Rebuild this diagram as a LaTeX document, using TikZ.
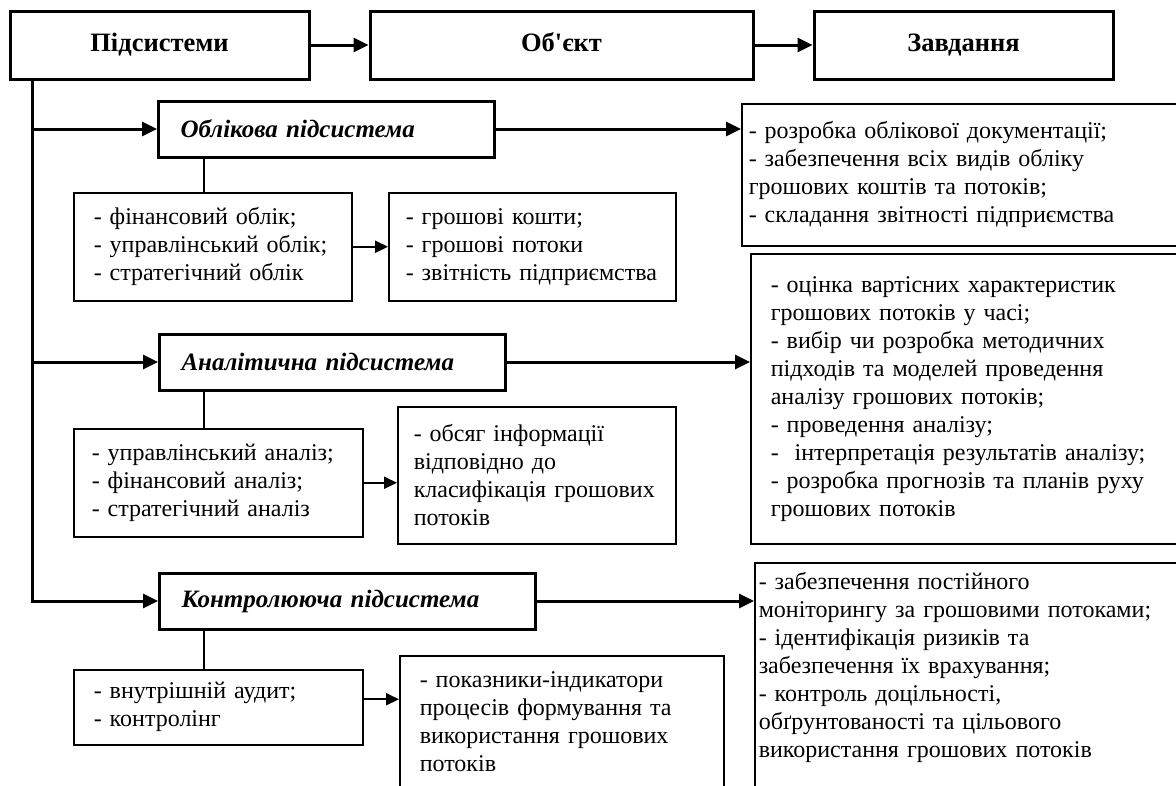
\documentclass[tikz,border=0pt]{standalone}
\usepackage{fontspec}
\setmainfont{Liberation Serif}[Ligatures=TeXOff]
\usetikzlibrary{arrows.meta}
\tikzset{
x=1pt, y=-1pt, % one unit is one pixel, y runs downwards
>={Triangle[length=15pt, width=14pt]}, % filled arrow heads
head/.style={draw, line width=3pt, minimum height=68pt, text height=19pt, text depth=6pt, font=\fontsize{26.5}{30}\selectfont\bfseries}, % top row
part/.style={draw, line width=3pt, minimum height=56pt, inner xsep=22pt, anchor=west, align=left, font=\fontsize{25}{28}\selectfont\bfseries\itshape}, % the three subsystems
list/.style={draw, line width=1.5pt, anchor=north west, align=left, inner xsep=20pt, font=\fontsize{24}{28}\selectfont}, % boxes with the lists
flow/.style={->, line width=3pt}, % main arrows
feed/.style={->, line width=2pt, >={Triangle[length=13pt, width=12pt]}}, % small arrows between lists
stem/.style={line width=1.5pt}, % subsystem to its list
}

\begin{document}
\begin{tikzpicture}
    \useasboundingbox (0,0) rectangle (1176,785);
    \clip (0,0) rectangle (1176,785);

    % top row
    \node[head, minimum width=299pt] (sys) at (159.5,45) {Підсистеми};
    \node[head, minimum width=383pt] (obj) at (561.5,45) {Об'єкт};
    \node[head, minimum width=299pt] (tasks) at (963.5,45) {Завдання};

    % subsystems
    \node[part, text width=292pt] (acc) at (157,129) {Облікова підсистема};
    \node[part, text width=302pt] (ana) at (158,362) {Аналітична підсистема};
    \node[part, text width=332pt] (ctl) at (158,601) {Контролююча підсистема};

    % lists under each subsystem
    \node[list, text width=238pt, minimum height=108pt] (acc1) at (73,192)
        {- фінансовий облік;\\- управлінський облік;\\- стратегічний облік};
    \node[list, text width=253pt, minimum height=108pt, inner xsep=17pt] (acc2) at (388,192)
        {- грошові кошти;\\- грошові потоки\\- звітність підприємства};
    \node[list, text width=253pt, minimum height=108pt, inner xsep=18pt] (ana1) at (73,428)
        {- управлінський аналіз;\\- фінансовий аналіз;\\- стратегічний аналіз};
    \node[list, text width=246pt, minimum height=137pt, inner xsep=16pt] (ana2) at (397,406)
        {- обсяг інформації\\відповідно до\\класифікація грошових\\потоків};
    \node[list, text width=249pt, minimum height=75pt] (ctl1) at (73,669)
        {- внутрішній аудит;\\- контролінг};
    \node[list, text width=284pt, inner ysep=16pt] (ctl2) at (399,655)
        {- показники-індикатори\\процесів формування та\\використання грошових\\потоків\\[60pt]\mbox{}};

    % tasks
    \node[list, text width=440pt, minimum height=142pt, inner xsep=7pt] (task1) at (741,103)
        {- розробка облікової документації;\\- забезпечення всіх видів обліку\\грошових коштів та потоків;\\- складання звітності підприємства};
    \node[list, text width=400pt, minimum height=290pt] (task2) at (750,253)
        {- оцінка вартісних характеристик\\грошових потоків у часі;\\- вибір чи розробка методичних\\підходів та моделей проведення\\аналізу грошових потоків;\\- проведення аналізу;\\-~ інтерпретація результатів аналізу;\\- розробка прогнозів та планів руху\\грошових потоків};
    \node[list, text width=440pt, inner xsep=4pt, inner ysep=10pt] (task3) at (754,562)
        {- забезпечення постійного\\моніторингу за грошовими потоками;\\- ідентифікація ризиків та\\забезпечення їх врахування;\\- контроль доцільності,\\обґрунтованості та цільового\\використання грошових потоків\\[60pt]\mbox{}};

    \coordinate (trunk) at (32,0);
    \coordinate (stem) at (204,0);

    \draw[flow] (sys) -- (obj);
    \draw[flow] (obj) -- (tasks);
    \draw[flow] (trunk |- sys.south) |- (ctl.west);
    \draw[flow] (trunk |- acc.west) -- (acc.west);
    \draw[flow] (trunk |- ana.west) -- (ana.west);
    \draw[flow] (acc.east) -- (acc.east -| task1.west);
    \draw[flow] (ana.east) -- (ana.east -| task2.west);
    \draw[flow] (ctl.east) -- (ctl.east -| task3.west);

    \draw[stem] (stem |- acc.south) -- (stem |- acc1.north);
    \draw[stem] (stem |- ana.south) -- (stem |- ana1.north);
    \draw[stem] (stem |- ctl.south) -- (stem |- ctl1.north);
    \draw[feed] (acc1.east) -- (acc1.east -| acc2.west);
    \draw[feed] (ana1.east) -- (ana1.east -| ana2.west);
    \draw[feed] ([yshift=8pt]ctl1.east) -- ([yshift=8pt]ctl1.east -| ctl2.west);
\end{tikzpicture}
\end{document}
